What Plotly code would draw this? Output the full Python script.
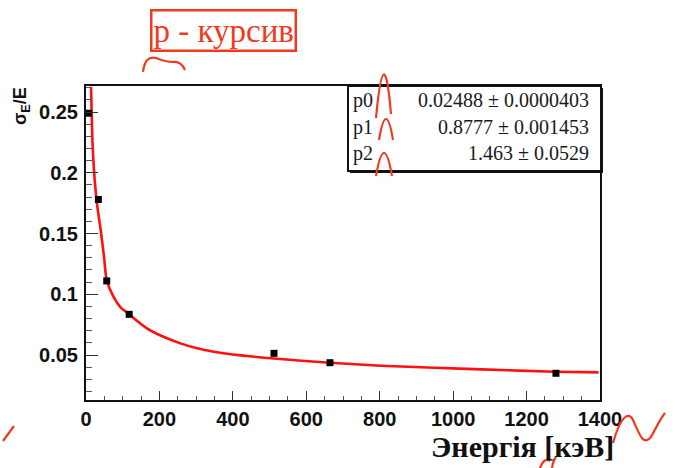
import plotly.graph_objects as go

# ---- data ----
energy_pts = [7, 33.6, 56.5, 117.6, 512, 664.5, 1280]
sigma_pts = [0.249, 0.178, 0.111, 0.0835, 0.0514, 0.0437, 0.035]

fit_energy = [13.7, 15.5, 18.2, 23.7, 31, 40, 49, 56.5, 74.7, 93, 117.6, 166, 211, 257,
              303, 348, 394, 439, 503, 664, 804, 950, 1077, 1280, 1396]
fit_sigma = [0.2708, 0.249, 0.2214, 0.194, 0.172, 0.1529, 0.131, 0.1117, 0.098, 0.0897,
             0.0835, 0.072, 0.065, 0.0596, 0.0555, 0.0527, 0.0506, 0.0492, 0.0473, 0.0437,
             0.0412, 0.0395, 0.0382, 0.0363, 0.0357]

x_ticks = [0, 200, 400, 600, 800, 1000, 1200, 1400]
y_ticks = [0.05, 0.1, 0.15, 0.2, 0.25]
y_tick_text = ["0.05", "0.1", "0.15", "0.2", "0.25"]

par_names = ["p0", "p1", "p2"]
par_values = ["0.02488 \u00b1 0.0000403", "0.8777 \u00b1 0.001453", "1.463 \u00b1 0.0529"]

W, H = 675, 468
L, R, T, B = 86, 600, 86, 400


def px(x):
    return (x - L) / (R - L)


def py(y):
    return (B - y) / (B - T)


def path(points_cmds):
    out = []
    for cmd, pts in points_cmds:
        s = cmd
        for (a, b) in pts:
            s += f" {px(a):.4f},{py(b):.4f}"
        out.append(s)
    return " ".join(out)


fig = go.Figure()
fig.add_trace(go.Scatter(x=fit_energy, y=fit_sigma, mode="lines",
                         line=dict(color="#ff1010", width=2.6, shape="spline", smoothing=0.8),
                         hoverinfo="skip", showlegend=False))
fig.add_trace(go.Scatter(x=energy_pts, y=sigma_pts, mode="markers",
                         marker=dict(symbol="square", size=7, color="black"),
                         showlegend=False))

axfont = dict(family="Liberation Sans, Arial", size=20, color="#111", weight="bold")

fig.update_layout(
    width=W, height=H,
    margin=dict(l=L, r=W - R, t=T, b=H - B),
    paper_bgcolor="white", plot_bgcolor="white",
    xaxis=dict(range=[0, 1400], tickvals=x_ticks, ticks="inside", ticklen=9, tickwidth=1,
               tickcolor="#333", showline=True, linewidth=2, linecolor="#111", mirror=True,
               showgrid=False, zeroline=False, tickfont=axfont, ticklabelstandoff=0,
               minor=dict(dtick=50, ticks="inside", ticklen=4, tickcolor="#555", showgrid=False)),
    yaxis=dict(range=[0.013, 0.2714], tickvals=y_ticks, ticktext=y_tick_text, ticks="inside",
               ticklen=12, tickwidth=1, tickcolor="#333", showline=True, linewidth=2,
               linecolor="#111", mirror=True, showgrid=False, zeroline=False, tickfont=axfont,
               ticklabelstandoff=2,
               minor=dict(dtick=0.01, tick0=0, ticks="inside", ticklen=6, tickcolor="#555",
                          showgrid=False)),
)

shapes = []
# stat box shadow + box
shapes.append(dict(type="rect", xref="paper", yref="paper", x0=px(350), x1=px(603),
                   y0=py(173), y1=py(88), fillcolor="#111", line=dict(width=0), layer="above"))
shapes.append(dict(type="rect", xref="paper", yref="paper", x0=px(348), x1=px(601),
                   y0=py(171), y1=py(86), fillcolor="white", line=dict(color="#111", width=2),
                   layer="above"))

red = "#f03a1e"
squiggles = [
    [("M", [(143, 72)]), ("Q", [(145, 55), (156, 58)]), ("Q", [(166, 62), (173, 62)]),
     ("Q", [(181, 61), (185, 70)])],
    [("M", [(376, 118)]), ("Q", [(384, 33), (391, 114)])],
    [("M", [(379, 140)]), ("Q", [(386, 98), (393, 140)])],
    [("M", [(376, 176)]), ("Q", [(384, 130), (392, 176)])],
    [("M", [(3, 441)]), ("L", [(14, 426)])],
    [("M", [(613, 443)]), ("C", [(620, 418), (628, 410), (633, 420)]),
     ("C", [(639, 433), (643, 447), (651, 437)]), ("C", [(656, 428), (660, 419), (665, 413)])],
    [("M", [(540, 468)]), ("Q", [(544, 457), (550, 461)])],
    [("M", [(552, 468)]), ("Q", [(553, 461), (556, 457)])],
]
for sq in squiggles:
    shapes.append(dict(type="path", xref="paper", yref="paper", path=path(sq),
                       line=dict(color=red, width=2.2), layer="above"))
fig.update_layout(shapes=shapes)

ann = []
serif = "Liberation Serif, Times New Roman, serif"
row_y = [100, 127, 153]
for name, val, yy in zip(par_names, par_values, row_y):
    ann.append(dict(xref="paper", yref="paper", x=px(351), y=py(yy), text=name,
                    showarrow=False, xanchor="left", yanchor="middle",
                    font=dict(family=serif, size=20, color="#1a1a1a")))
    ann.append(dict(xref="paper", yref="paper", x=px(591), y=py(yy), text=val,
                    showarrow=False, xanchor="right", yanchor="middle",
                    font=dict(family=serif, size=20, color="#1a1a1a")))

ann.append(dict(xref="paper", yref="paper", x=px(21), y=py(106),
                text="\u03c3<sub>E</sub>/E", textangle=-90, showarrow=False,
                xanchor="center", yanchor="middle",
                font=dict(family="Liberation Sans, Arial", size=18, color="#111", weight="bold")))
ann.append(dict(xref="paper", yref="paper", x=px(616), y=py(446),
                text="\u042d\u043d\u0435\u0440\u0433i\u044f [\u043a\u044d\u0412]",
                showarrow=False, xanchor="right", yanchor="middle",
                font=dict(family=serif, size=30, color="#111", weight="bold")))
ann.append(dict(xref="paper", yref="paper", x=px(223), y=py(31),
                text="p - \u043a\u0443\u0440\u0441\u0438\u0432", showarrow=False,
                xanchor="center", yanchor="middle", bordercolor=red, borderwidth=2.5,
                borderpad=1, bgcolor="white",
                font=dict(family=serif, size=33, color=red)))
fig.update_layout(annotations=ann)

fig.write_html("out.html")
